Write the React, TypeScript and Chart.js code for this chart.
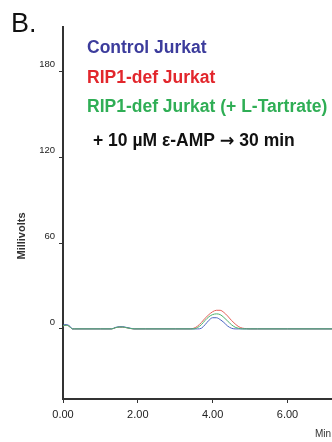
import React, { useEffect, useRef } from "react";
import { Chart, registerables } from "chart.js";

Chart.register(...registerables);

const times = [0, 0.05, 0.1, 0.15, 0.2, 0.25, 0.3, 1.0, 1.3, 1.4, 1.5, 1.6, 1.7, 1.8, 1.9, 2.2, 3.0, 3.4, 3.5, 3.6, 3.7, 3.8, 3.9, 4.0, 4.1, 4.2, 4.3, 4.4, 4.5, 4.6, 4.7, 4.8, 4.9, 5.0, 5.2, 6.0, 7.19];
const controlJurkat = [2.5, 3, 3, 2.5, 1.5, 0, 0, 0, 0, 1, 1.5, 1.5, 1, 0.5, 0, 0, 0, 0, 0, 0, 0.5, 3, 6, 7.8, 7.8, 6.5, 4.5, 2, 0.5, 0, 0, 0, 0, 0, 0, 0, 0];
const ripDefJurkat = [2, 2.5, 2.5, 2, 1, 0, 0, 0, 0, 0.8, 1.2, 1.2, 0.8, 0.3, 0, 0, 0, 0, 0.5, 2, 4.5, 7.5, 10, 12, 13, 13, 11.5, 9, 6, 3.5, 1.5, 0.5, 0.2, 0, 0, 0, 0];
const ripDefTartrate = [2, 2.5, 2.5, 2, 1, 0, 0, 0, 0, 0.8, 1.3, 1.3, 0.8, 0.3, 0, 0, 0, 0, 0, 1, 3, 6, 8.5, 10, 10.5, 10, 8, 5.5, 3, 1.2, 0.4, 0, 0, 0, 0, 0, 0];

const xTicks = [0, 2, 4, 6];
const yTicks = [0, 60, 120, 180];

const legendLabels = ["Control Jurkat", "RIP1-def Jurkat", "RIP1-def Jurkat (+ L-Tartrate)"];
const noteParts = ["+ 10 \u00b5M \u03b5-AMP ", "\u2192", " 30 min"];
const panelLabel = "B.";
const yTitle = "Millivolts";
const xTitle = "Min";

export default function App() {
  const ref = useRef<HTMLCanvasElement | null>(null);
  useEffect(() => {
    document.body.style.margin = "0";
    const canvas = ref.current;
    if (!canvas) return;
    const toXY = (arr: number[]) => arr.map((v, i) => ({ x: times[i], y: v }));
    const textPlugin = {
      id: "texts",
      afterDraw(chart: any) {
        const ctx = chart.ctx;
        ctx.save();
        ctx.textBaseline = "alphabetic";
        ctx.textAlign = "left";
        ctx.fillStyle = "#111";
        ctx.font = "27px 'Liberation Sans', Arial, sans-serif";
        ctx.fillText(panelLabel, 11, 32);
        const colors = ["#3c3c9c", "#e2262c", "#2fae55"];
        const ys = [53, 83, 112];
        const lf = "bold 17.5px 'Liberation Sans', Arial, sans-serif";
        ctx.font = lf;
        legendLabels.forEach((t, i) => {
          ctx.fillStyle = colors[i];
          ctx.fillText(t, 87, ys[i]);
        });
        ctx.fillStyle = "#111";
        let x = 93;
        noteParts.forEach((p, i) => {
          ctx.font = i === 1 ? "bold 17.5px 'DejaVu Sans', sans-serif" : lf;
          ctx.fillText(p, x, 146);
          x += ctx.measureText(p).width;
        });
        ctx.font = "bold 11px 'Liberation Sans', Arial, sans-serif";
        ctx.fillStyle = "#333";
        ctx.save();
        ctx.translate(25, 236);
        ctx.rotate(-Math.PI / 2);
        ctx.textAlign = "center";
        ctx.fillText(yTitle, 0, 0);
        ctx.restore();
        ctx.font = "10px 'Liberation Sans', Arial, sans-serif";
        ctx.fillText(xTitle, 315, 437);
        ctx.restore();
      },
    };
    const chart = new Chart(canvas, {
      type: "line",
      data: {
        datasets: [
          { label: legendLabels[2], data: toXY(ripDefTartrate), borderColor: "#4cb26c" },
          { label: legendLabels[0], data: toXY(controlJurkat), borderColor: "#4a64c2" },
          { label: legendLabels[1], data: toXY(ripDefJurkat), borderColor: "#e4605a" },
        ].map((d) => ({ ...d, borderWidth: 1, pointRadius: 0, cubicInterpolationMode: "monotone" as const, fill: false })),
      },
      options: {
        animation: false,
        responsive: true,
        maintainAspectRatio: false,
        layout: { padding: { top: 27, right: 0, left: 0, bottom: 0 } },
        plugins: { legend: { display: false }, tooltip: { enabled: false } },
        scales: {
          x: {
            type: "linear",
            min: 0,
            max: 7.19,
            border: { color: "#333", width: 2 },
            grid: { display: true, drawOnChartArea: false, drawTicks: true, tickLength: 4, color: "#333" },
            ticks: {
              color: "#222",
              padding: 5,
              font: { size: 11, family: "'Liberation Sans', Arial, sans-serif" },
              callback: (v: any) => Number(v).toFixed(2),
            },
            afterBuildTicks: (s: any) => {
              s.ticks = xTicks.map((v) => ({ value: v }));
            },
            afterFit: (s: any) => {
              s.height = 43;
            },
          },
          y: {
            type: "linear",
            min: -49,
            max: 211,
            border: { color: "#333", width: 2 },
            grid: { display: true, drawOnChartArea: false, drawTicks: true, tickLength: 4, color: "#333" },
            ticks: {
              color: "#222",
              padding: 4,
              labelOffset: -7,
              font: { size: 9.5, family: "'Liberation Sans', Arial, sans-serif" },
            },
            afterBuildTicks: (s: any) => {
              s.ticks = yTicks.map((v) => ({ value: v }));
            },
            afterFit: (s: any) => {
              s.width = 63;
            },
          },
        },
      },
      plugins: [textPlugin],
    });
    return () => chart.destroy();
  }, []);
  return (
    <div style={{ width: 332, height: 442, position: "relative" }}>
      <canvas ref={ref} />
    </div>
  );
}
